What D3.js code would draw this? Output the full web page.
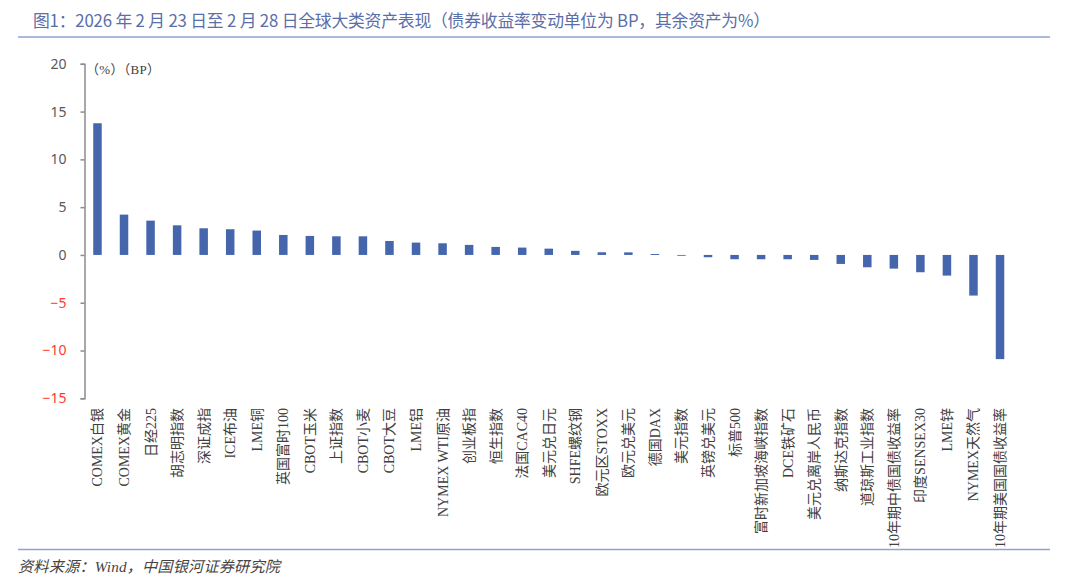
<!DOCTYPE html>
<html>
<head>
<meta charset="utf-8">
<script src="https://cdn.jsdelivr.net/npm/d3@7/dist/d3.min.js"></script>
<style>
  html, body { margin: 0; padding: 0; background: #fff; }
  svg { display: block; }
</style>
</head>
<body>
<svg id="chart" width="1080" height="578"></svg>
<script>
const categories = [
  "COMEX白银", "COMEX黄金", "日经225", "胡志明指数", "深证成指", "ICE布油", "LME铜",
  "英国富时100", "CBOT玉米", "上证指数", "CBOT小麦", "CBOT大豆", "LME铝", "NYMEX WTI原油",
  "创业板指", "恒生指数", "法国CAC40", "美元兑日元", "SHFE螺纹钢", "欧元区STOXX", "欧元兑美元",
  "德国DAX", "美元指数", "英镑兑美元", "标普500", "富时新加坡海峡指数", "DCE铁矿石",
  "美元兑离岸人民币", "纳斯达克指数", "道琼斯工业指数", "10年期中债国债收益率", "印度SENSEX30",
  "LME锌", "NYMEX天然气", "10年期美国国债收益率"
];
const values = [
  13.78, 4.22, 3.59, 3.10, 2.79, 2.69, 2.55,
  2.09, 1.99, 1.95, 1.95, 1.46, 1.29, 1.22,
  1.05, 0.84, 0.77, 0.66, 0.43, 0.28, 0.27,
  0.10, -0.07, -0.24, -0.45, -0.45, -0.45,
  -0.52, -0.94, -1.29, -1.43, -1.81,
  -2.16, -4.25, -10.9
];
const yTicks = [-15, -10, -5, 0, 5, 10, 15, 20];

const titleText = "图1：2026 年 2 月 23 日至 2 月 28 日全球大类资产表现（债券收益率变动单位为 BP，其余资产为%）";
const unitText = "（%）（BP）";
const sourceText = "资料来源：Wind，中国银河证券研究院";

const svg = d3.select("#chart");
const blue = "#4565ad";

// Title
svg.append("text")
  .attr("x", 33).attr("y", 27)
  .attr("font-family", "'Noto Sans CJK SC', sans-serif")
  .attr("font-size", 16.8)
  .attr("textLength", 737)
  .attr("lengthAdjust", "spacing")
  .attr("fill", "#5a6ea8")
  .text(titleText);
svg.append("line")
  .attr("x1", 18).attr("x2", 1050).attr("y1", 37).attr("y2", 37)
  .attr("stroke", "#8fa2d0").attr("stroke-width", 1.5);

// Footer
svg.append("line")
  .attr("x1", 18).attr("x2", 1050).attr("y1", 549.5).attr("y2", 549.5)
  .attr("stroke", "#8fa2d0").attr("stroke-width", 1.5);
svg.append("text")
  .attr("x", 18).attr("y", 572)
  .attr("font-family", "'Liberation Serif', 'Noto Sans CJK SC', serif")
  .attr("font-style", "italic")
  .attr("font-size", 15.2)
  .attr("textLength", 262)
  .attr("lengthAdjust", "spacing")
  .attr("fill", "#444")
  .text(sourceText);

// Scales
const x = d3.scaleBand()
  .domain(categories)
  .range([84.2, 1013.3])
  .paddingInner(0.68)
  .paddingOuter(0.34);
const y = d3.scaleLinear().domain([-15, 20]).range([398.3, 63.8]);

// Y axis
const yAxis = d3.axisLeft(y).tickValues(yTicks).tickSize(4).tickPadding(14).tickFormat(d3.format("d"));
const gy = svg.append("g").attr("transform", "translate(84.5,0)").call(yAxis);
gy.select(".domain").attr("stroke", "#8c8c8c").attr("stroke-width", 1.5);
gy.selectAll(".tick line").attr("stroke", "#8c8c8c").attr("stroke-width", 1.5);
gy.selectAll(".tick text")
  .attr("font-family", "'Noto Sans', sans-serif")
  .attr("font-size", 14)
  .attr("fill", d => d < 0 ? "#ff3b30" : "#595959");

// Unit label
svg.append("text")
  .attr("x", 86).attr("y", 74)
  .attr("font-family", "'Liberation Serif', 'Noto Sans CJK SC', serif")
  .attr("font-size", 13)
  .attr("textLength", 74)
  .attr("lengthAdjust", "spacing")
  .attr("fill", "#404040")
  .text(unitText);

// Bars
svg.append("g").selectAll("rect")
  .data(categories.map((c, i) => ({ c, v: values[i] })))
  .join("rect")
  .attr("x", d => x(d.c))
  .attr("width", x.bandwidth())
  .attr("y", d => y(Math.max(0, d.v)))
  .attr("height", d => Math.max(0.8, Math.abs(y(d.v) - y(0))))
  .attr("fill", blue);

// X labels (rotated)
svg.append("g").selectAll("text")
  .data(categories)
  .join("text")
  .attr("transform", d => `translate(${x(d) + x.bandwidth() / 2 + 5},408) rotate(-90)`)
  .attr("text-anchor", "end")
  .attr("font-family", "'Liberation Serif', 'Noto Sans CJK SC', serif")
  .attr("font-size", 14)
  .attr("fill", "#404040")
  .text(d => d);
</script>
</body>
</html>
